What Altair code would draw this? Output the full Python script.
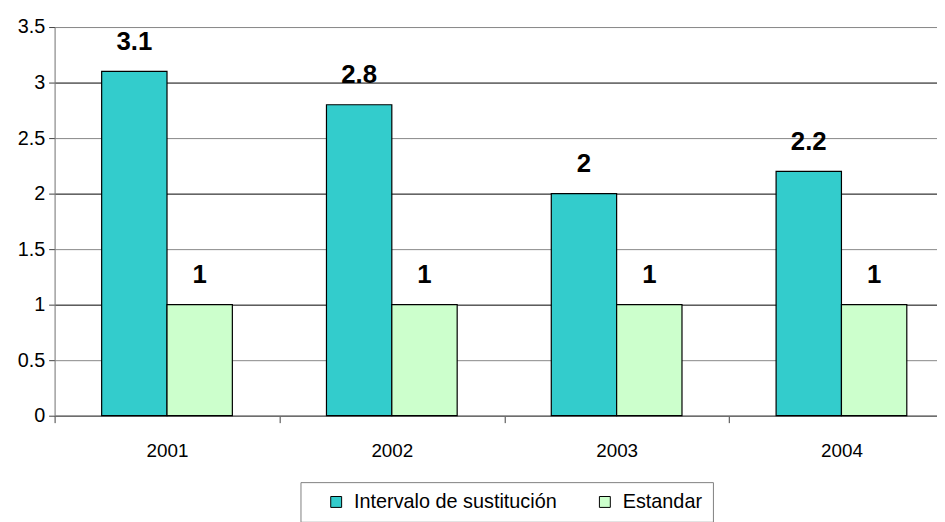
import altair as alt
import pandas as pd

years = ["2001", "2002", "2003", "2004"]
series_names = ["Intervalo de sustitución", "Estandar"]
intervalo = [3.1, 2.8, 2.0, 2.2]
estandar = [1, 1, 1, 1]
colors = ["#33CCCC", "#CCFFCC"]
y_ticks = [0, 0.5, 1, 1.5, 2, 2.5, 3, 3.5]

rows = []
for i, y in enumerate(years):
    rows.append({"year": y, "series": series_names[0], "value": intervalo[i]})
    rows.append({"year": y, "series": series_names[1], "value": estandar[i]})
df = pd.DataFrame(rows)

FONT = "Liberation Sans, Arial"

x_enc = alt.X(
    "year:N",
    sort=years,
    scale=alt.Scale(paddingInner=0, paddingOuter=0, range=[0, 907]),
    axis=alt.Axis(
        title=None, labelAngle=0, tickBand="extent", grid=False,
        domainColor="#808080", tickColor="#404040", tickSize=7,
        labelFont=FONT, labelFontSize=19, labelColor="black", labelPadding=19,
    ),
)
xo_enc = alt.XOffset("series:N", sort=series_names,
                     scale=alt.Scale(paddingOuter=0.72, paddingInner=0))
y_enc = alt.Y(
    "value:Q",
    scale=alt.Scale(domain=[0, 3.5], nice=False),
    axis=alt.Axis(
        title=None, values=y_ticks, format="~g",
        grid=True,
        gridColor={"condition": {"test": "datum.value % 1 === 0", "value": "#000000"}, "value": "#888888"},
        gridWidth=1,
        domainColor="#808080", tickColor="#404040", tickSize=6,
        labelFont=FONT, labelFontSize=20, labelColor="black", labelPadding=4,
    ),
)

bars = alt.Chart(df).mark_bar(stroke="black", strokeWidth=1.2).encode(
    x=x_enc,
    xOffset=xo_enc,
    y=y_enc,
    color=alt.Color(
        "series:N",
        sort=series_names,
        scale=alt.Scale(domain=series_names, range=colors),
        legend=alt.Legend(
            title=None, orient="none", legendX=248, legendY=459,
            direction="horizontal", strokeColor="#808080", fillColor="white",
            padding=10, symbolType="square", symbolSize=121,
            symbolStrokeColor="black", symbolStrokeWidth=1,
            labelFont=FONT, labelFontSize=20, labelColor="black", labelLimit=400,
            columnPadding=22, labelOffset=8, symbolOffset=16,
        ),
    ),
)

labels = alt.Chart(df).mark_text(
    dy=-22, baseline="alphabetic", align="center",
    font=FONT, fontSize=26, fontWeight="bold", color="black",
).encode(
    x=alt.X("year:N", sort=years),
    xOffset=alt.XOffset("series:N", sort=series_names),
    y=alt.Y("value:Q"),
    text=alt.Text("value:Q", format="~g"),
)

chart = alt.layer(bars, labels).properties(
    width=890, height=392,
    autosize=alt.AutoSizeParams(type="none"),
    padding={"left": 47, "top": 17, "right": 0, "bottom": 105},
).configure_view(stroke=None).configure(background="white")

chart.save("out.html", embed_options={"renderer": "svg", "actions": False})
